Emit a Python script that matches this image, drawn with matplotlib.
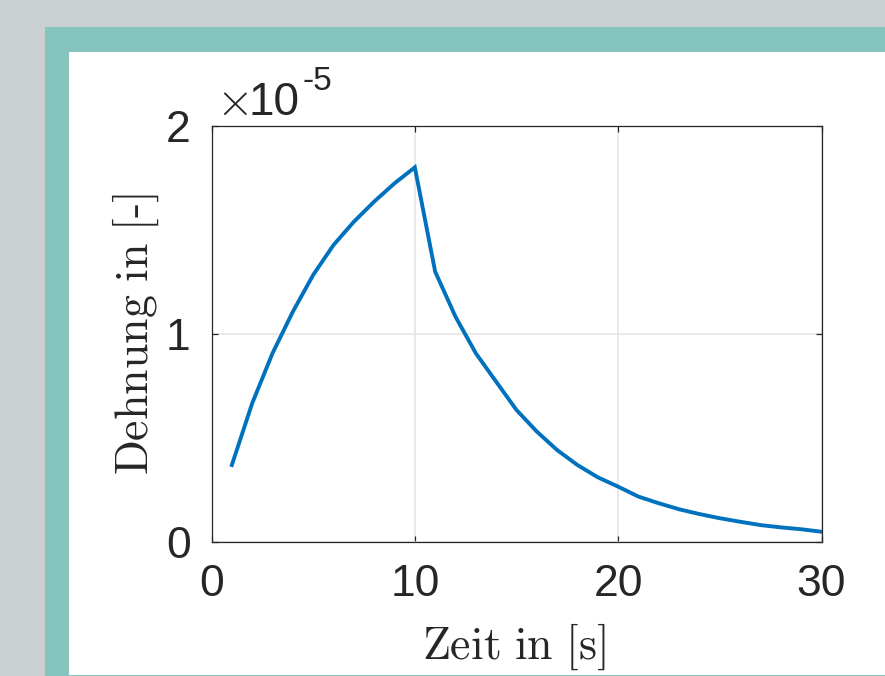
#!/usr/bin/env python3

import matplotlib
matplotlib.use('Agg')
import matplotlib.pyplot as plt
from matplotlib.patches import Rectangle
from matplotlib.ticker import FuncFormatter

# time steps in s
zeit = [1, 2, 3, 4, 5, 6, 7, 8, 9, 10,
        11, 12, 13, 14, 15, 16, 17, 18, 19, 20,
        21, 22, 23, 24, 25, 26, 27, 28, 29, 30]

# strain in units of 1e-5
dehnung = [0.368, 0.665, 0.906, 1.106, 1.283, 1.427, 1.539, 1.636, 1.724, 1.801,
           1.299, 1.082, 0.906, 0.769, 0.633, 0.529, 0.440, 0.368, 0.309, 0.264,
           0.216, 0.184, 0.155, 0.132, 0.112, 0.095, 0.079, 0.068, 0.059, 0.047]
skala = 1e-5

x_ticks = [0, 10, 20, 30]
y_ticks = [0, 1, 2]

W, H = 885, 676

plt.rcParams['font.family'] = ['Liberation Sans', 'DejaVu Sans']

fig = plt.figure(figsize=(W / 100, H / 100), dpi=100)
fig.patch.set_facecolor('#cacfd2')

def px_rect(x0, y0, x1, y1, color):
  # rectangle in pixel coords (origin top left)
  r = Rectangle((x0 / W, 1 - y1 / H), (x1 - x0) / W, (y1 - y0) / H,
                transform=fig.transFigure, facecolor=color, edgecolor='none',
                zorder=-10)
  fig.add_artist(r)

# teal frame and white sheet
px_rect(45, 27, W, H, '#86c5bd')
px_rect(69, 52, W, H - 1, 'white')

ax_l, ax_t, ax_r, ax_b = 211.5, 126, 821.5, 541.5
ax = fig.add_axes([ax_l / W, 1 - ax_b / H, (ax_r - ax_l) / W, (ax_b - ax_t) / H])
ax.set_facecolor('white')

ax.plot(zeit, [v * skala for v in dehnung], color='#0072bd', linewidth=2.8,
        solid_joinstyle='miter', zorder=3)

ax.set_xlim(0, 30)
ax.set_ylim(0, 2 * skala)
ax.set_xticks(x_ticks)
ax.set_yticks([v * skala for v in y_ticks])
ax.yaxis.set_major_formatter(FuncFormatter(lambda v, p: '%g' % round(v / skala, 6)))

ax.grid(True, color='#e3e3e3', linewidth=1.1, zorder=0)
ax.set_axisbelow(True)

for s in ax.spines.values():
  s.set_color('#262626')
  s.set_linewidth(0.9)

ax.tick_params(direction='in', length=4.5, width=0.9, color='#262626',
               top=True, right=True, labelsize=32, labelcolor='#262626')
ax.tick_params(axis='x', pad=16)
ax.tick_params(axis='y', pad=15)

ax.set_xlabel(r'$\mathrm{Zeit\ in\ [s]}$', fontsize=33, math_fontfamily='cm',
              color='#262626', va='center')
ax.xaxis.set_label_coords((514 - ax_l) / (ax_r - ax_l), (ax_b - 647) / (ax_b - ax_t))
ax.set_ylabel(r'$\mathrm{Dehnung\ in\ [\text{-}]}$', fontsize=33, math_fontfamily='cm',
              color='#262626', va='center')
ax.yaxis.set_label_coords((136 - ax_l) / (ax_r - ax_l), 0.5)

# exponent label like matlab
def fx(px):
  return (px - ax_l) / (ax_r - ax_l)

def fy(py):
  return (ax_b - py) / (ax_b - ax_t)

ax.text(fx(216), fy(115), r'$\times$', math_fontfamily='cm',
        transform=ax.transAxes, fontsize=34, color='#262626', va='baseline', ha='left')
ax.text(fx(249), fy(115), '10',
        transform=ax.transAxes, fontsize=33, color='#262626', va='baseline', ha='left')
ax.text(fx(303), fy(90), '-5',
        transform=ax.transAxes, fontsize=24, color='#262626', va='baseline', ha='left')

fig.savefig('out.png', dpi=100, facecolor=fig.get_facecolor())
